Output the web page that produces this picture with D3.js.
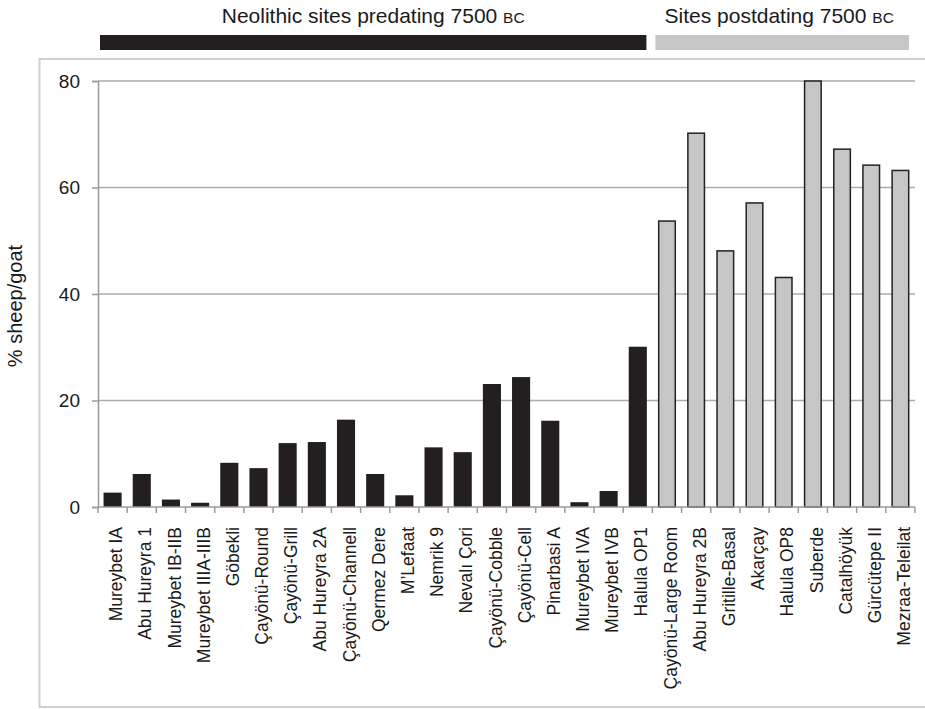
<!DOCTYPE html>
<html>
<head>
<meta charset="utf-8">
<script src="https://cdn.jsdelivr.net/npm/d3@7"></script>
<style>
  html, body { margin: 0; padding: 0; background: #fff; }
  svg { display: block; font-family: "Liberation Sans", Arial, sans-serif; }
</style>
</head>
<body>
<svg id="chart" width="925" height="709"></svg>
<script>
// ---- data ----
const categories = [
  "Mureybet IA", "Abu Hureyra 1", "Mureybet IB-IIB", "Mureybet IIIA-IIIB", "Göbekli",
  "Çayönü-Round", "Çayönü-Grill", "Abu Hureyra 2A", "Çayönü-Channell", "Qermez Dere",
  "M’Lefaat", "Nemrik 9", "Nevalı Çori", "Çayönü-Cobble", "Çayönü-Cell",
  "Pinarbasi A", "Mureybet IVA", "Mureybet IVB", "Halula OP1",
  "Çayönü-Large Room", "Abu Hureyra 2B", "Gritille-Basal", "Akarçay", "Halula OP8",
  "Suberde", "Catalhöyük", "Gürcütepe II", "Mezraa-Teleilat"
];
const values = [
  2.7, 6.2, 1.4, 0.8, 8.3,
  7.3, 12.0, 12.2, 16.4, 6.2,
  2.2, 11.2, 10.3, 23.1, 24.4,
  16.2, 0.9, 3.0, 30.1,
  53.7, 70.2, 48.1, 57.1, 43.1,
  80.0, 67.2, 64.2, 63.2
];
// group: 0 = predating 7500 BC, 1 = postdating
const groups = [
  0,0,0,0,0,0,0,0,0,0,0,0,0,0,0,0,0,0,0,
  1,1,1,1,1,1,1,1,1
];
const groupLabels = ["Neolithic sites predating 7500 ", "Sites postdating 7500 "];
const yTicks = [0, 20, 40, 60, 80];
const yLabel = "% sheep/goat";

// ---- layout ----
const svg = d3.select("#chart");
const mLeft = 98, mRight = 915, mTop = 81, mBottom = 507;

const x = d3.scaleBand().domain(categories).range([mLeft, mRight])
  .paddingInner(0.38).paddingOuter(0.19);
const y = d3.scaleLinear().domain([0, 80]).range([mBottom, mTop]);
const step = x.step();

const fillColor = ["#231f20", "#c6c6c6"];

// outer frame
svg.append("rect")
  .attr("x", 39.5).attr("y", 59).attr("width", 900).attr("height", 648)
  .attr("fill", "none").attr("stroke", "#cfcfcf").attr("stroke-width", 2);

// header bars and texts
const nFirst = groups.filter(g => g === 0).length;
const headerSpans = [
  [mLeft + 2, mLeft + nFirst * step - 6],
  [mLeft + nFirst * step + 3, mRight - 6]
];
headerSpans.forEach((s, i) => {
  svg.append("rect")
    .attr("x", s[0]).attr("y", 35).attr("width", s[1] - s[0]).attr("height", 15)
    .attr("fill", fillColor[i]);
  const t = svg.append("text")
    .attr("x", (s[0] + s[1]) / 2 + (i === 1 ? -3 : 0)).attr("y", 23)
    .attr("text-anchor", "middle")
    .attr("font-size", 21).attr("fill", "#1a1a1a");
  t.append("tspan").text(groupLabels[i]);
  t.append("tspan").attr("font-size", 15.5).text("BC");
});

// gridlines
svg.append("g").selectAll("line")
  .data(yTicks.filter(d => d > 0))
  .join("line")
  .attr("x1", mLeft).attr("x2", mRight)
  .attr("y1", d => y(d)).attr("y2", d => y(d))
  .attr("stroke", "#ababab").attr("stroke-width", 1.5);

// y axis
const yAxis = svg.append("g")
  .attr("transform", `translate(${mLeft},0)`)
  .call(d3.axisLeft(y).tickValues(yTicks).tickSize(6).tickPadding(12));
yAxis.select(".domain").attr("stroke", "#9a9a9a").attr("stroke-width", 1.5);
yAxis.selectAll(".tick line").attr("stroke", "#9a9a9a").attr("stroke-width", 1.5);
yAxis.selectAll(".tick text")
  .attr("font-size", 19).attr("fill", "#1a1a1a")
  .attr("font-family", "Liberation Sans, Arial, sans-serif");

// y axis label
svg.append("text")
  .attr("transform", "translate(22,306) rotate(-90)")
  .attr("text-anchor", "middle")
  .attr("font-size", 20).attr("fill", "#1a1a1a")
  .text(yLabel);

// bars
svg.append("g").selectAll("rect")
  .data(categories)
  .join("rect")
  .attr("x", (d, i) => x(d) + (groups[i] ? 0.75 : 0))
  .attr("y", (d, i) => y(values[i]))
  .attr("width", (d, i) => x.bandwidth() - (groups[i] ? 1.5 : 0))
  .attr("height", (d, i) => y(0) - y(values[i]))
  .attr("fill", (d, i) => fillColor[groups[i]])
  .attr("stroke", (d, i) => groups[i] ? "#222" : "none")
  .attr("stroke-width", 1.5);

// x baseline and ticks
svg.append("line")
  .attr("x1", mLeft).attr("x2", mRight)
  .attr("y1", mBottom).attr("y2", mBottom)
  .attr("stroke", "#9a9a9a").attr("stroke-width", 1.5);
const boundaries = d3.range(categories.length + 1).map(i => mLeft + i * step);
svg.append("g").selectAll("line")
  .data(boundaries)
  .join("line")
  .attr("x1", d => d).attr("x2", d => d)
  .attr("y1", mBottom).attr("y2", mBottom + 6)
  .attr("stroke", "#9a9a9a").attr("stroke-width", 1.5);

// x labels
svg.append("g").selectAll("text")
  .data(categories)
  .join("text")
  .attr("transform", d => `translate(${x(d) + x.bandwidth() / 2},527) rotate(-90)`)
  .attr("text-anchor", "end")
  .attr("dy", "0.55em")
  .attr("font-size", 17.5).attr("fill", "#1a1a1a")
  .text(d => d);
</script>
</body>
</html>
